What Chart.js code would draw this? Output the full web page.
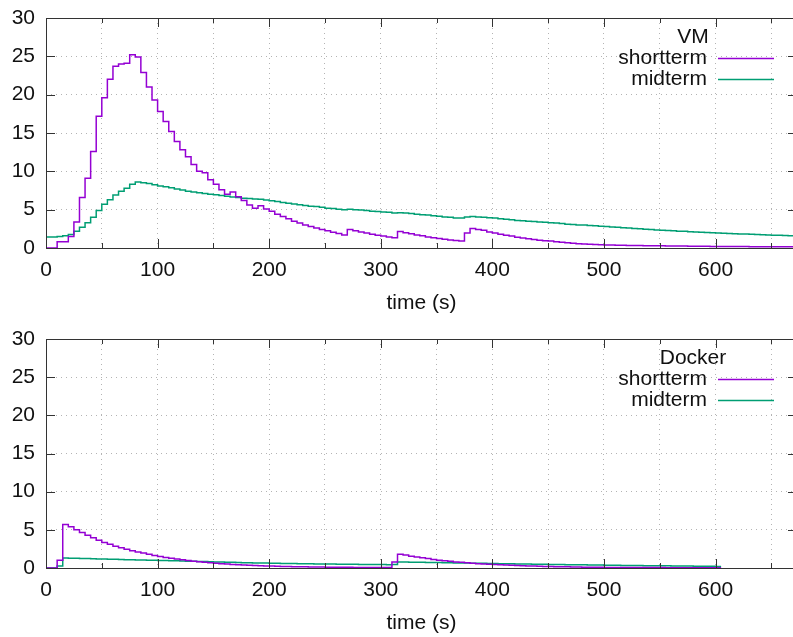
<!DOCTYPE html>
<html>
<head>
<meta charset="utf-8">
<title>Load average: VM vs Docker</title>
<script src="https://cdn.jsdelivr.net/npm/chart.js@4.4.1/dist/chart.umd.min.js"></script>
<style>
  html, body { margin: 0; padding: 0; background: #fff; overflow: hidden; }
  .panel { position: absolute; left: 0; width: 800px; height: 320px; }
  #vmPanel { top: 0; }
  #dockerPanel { top: 320px; }
</style>
</head>
<body>
<div class="panel" id="vmPanel"><canvas id="vmChart" width="800" height="320"></canvas></div>
<div class="panel" id="dockerPanel"><canvas id="dockerChart" width="800" height="320"></canvas></div>
<script>
// load averages, one sample every 5 s
const SAMPLE_STEP = 5;
const X_MAX = 673;
const X_LABELS = [0, 100, 200, 300, 400, 500, 600];
const Y_TICKS = [0, 5, 10, 15, 20, 25, 30];
const seriesNames = ['shortterm', 'midterm'];
const seriesColors = ['#9400d3', '#009e73'];

const vmShort = [
  0, 0, 0.8, 0.8, 1.5, 3.4, 6.6, 9.1, 12.6, 17.2,
  19.6, 22.0, 23.7, 24.0, 24.1, 25.2, 24.9, 22.9, 21.0, 19.3,
  17.8, 16.5, 15.2, 13.9, 12.8, 11.9, 10.9, 10.0, 9.8, 8.9,
  8.3, 7.6, 7.0, 7.3, 6.7, 6.2, 5.6, 5.2, 5.5, 5.1,
  4.8, 4.4, 4.1, 3.8, 3.5, 3.25, 3.0, 2.8, 2.6, 2.4,
  2.25, 2.05, 1.9, 1.7, 2.4, 2.25, 2.1, 1.95, 1.8, 1.65,
  1.55, 1.45, 1.35, 2.15, 2.0, 1.85, 1.7, 1.6, 1.45, 1.35,
  1.25, 1.15, 1.05, 0.97, 0.9, 1.95, 2.55, 2.4, 2.3, 2.1,
  1.95, 1.8, 1.65, 1.55, 1.4, 1.3, 1.2, 1.1, 1.0, 0.95,
  0.9, 0.8, 0.75, 0.7, 0.62, 0.57, 0.52, 0.48, 0.45, 0.42,
  0.4, 0.38, 0.36, 0.35, 0.33, 0.32, 0.31, 0.3, 0.3, 0.29,
  0.28, 0.27, 0.26, 0.25, 0.25, 0.24, 0.23, 0.22, 0.22, 0.21,
  0.2, 0.2, 0.19, 0.19, 0.18, 0.18, 0.17, 0.17, 0.16, 0.16,
  0.16, 0.15, 0.15, 0.15, 0.15
];
const vmMid = [
  1.45, 1.45, 1.5, 1.6, 1.75, 2.2, 2.7, 3.3, 4.0, 4.9,
  5.7, 6.3, 6.9, 7.4, 7.8, 8.3, 8.6, 8.5, 8.4, 8.25,
  8.1, 8.0, 7.85, 7.7, 7.55, 7.4, 7.3, 7.2, 7.1, 7.0,
  6.95, 6.85, 6.75, 6.65, 6.6, 6.5, 6.45, 6.4, 6.35, 6.25,
  6.15, 6.05, 5.95, 5.85, 5.75, 5.65, 5.55, 5.45, 5.4, 5.3,
  5.2, 5.15, 5.05, 5.0, 5.05, 5.0, 4.95, 4.9, 4.8, 4.75,
  4.7, 4.65, 4.55, 4.6, 4.55, 4.5, 4.4, 4.35, 4.3, 4.2,
  4.15, 4.05, 4.0, 3.9, 3.9, 4.05, 4.12, 4.05, 4.0, 3.95,
  3.9, 3.8, 3.75, 3.7, 3.6, 3.55, 3.5, 3.45, 3.4, 3.35,
  3.3, 3.25, 3.2, 3.1, 3.05, 3.0, 3.0, 2.95, 2.9, 2.85,
  2.8, 2.75, 2.7, 2.65, 2.6, 2.55, 2.5, 2.45, 2.4, 2.35,
  2.3, 2.27, 2.24, 2.2, 2.17, 2.13, 2.1, 2.07, 2.03, 2.0,
  1.96, 1.93, 1.9, 1.87, 1.84, 1.81, 1.78, 1.75, 1.72, 1.7,
  1.67, 1.65, 1.62, 1.6, 1.58
];

const dockerShort = [
  0, 0, 1.0, 5.7, 5.4, 5.0, 4.65, 4.3, 3.95, 3.65,
  3.35, 3.1, 2.85, 2.65, 2.45, 2.25, 2.1, 1.95, 1.8, 1.65,
  1.5, 1.38, 1.27, 1.17, 1.07, 0.98, 0.9, 0.82, 0.75, 0.68,
  0.62, 0.56, 0.51, 0.47, 0.43, 0.39, 0.35, 0.32, 0.3, 0.27,
  0.25, 0.23, 0.21, 0.19, 0.17, 0.16, 0.15, 0.14, 0.13, 0.12,
  0.11, 0.1, 0.1, 0.09, 0.09, 0.08, 0.08, 0.08, 0.07, 0.07,
  0.07, 0.07, 0.78, 1.8, 1.7, 1.55, 1.45, 1.35, 1.25, 1.12,
  1.02, 0.95, 0.88, 0.8, 0.74, 0.68, 0.63, 0.57, 0.53, 0.49,
  0.45, 0.41, 0.38, 0.35, 0.32, 0.29, 0.27, 0.25, 0.23, 0.21,
  0.19, 0.17, 0.16, 0.15, 0.13, 0.12, 0.11, 0.1, 0.1, 0.09,
  0.08, 0.08, 0.07, 0.07, 0.06, 0.06, 0.06, 0.05, 0.05, 0.05,
  0.05, 0.04, 0.04, 0.04, 0.04, 0.04, 0.03, 0.03, 0.03, 0.03, 0.03, 0.03
];
const dockerMid = [
  0, 0, 0.25, 1.3, 1.29, 1.27, 1.25, 1.23, 1.21, 1.19,
  1.17, 1.15, 1.13, 1.11, 1.09, 1.07, 1.05, 1.04, 1.02, 1.0,
  0.99, 0.97, 0.96, 0.94, 0.92, 0.9, 0.88, 0.86, 0.84, 0.82,
  0.8, 0.78, 0.76, 0.74, 0.72, 0.7, 0.69, 0.67, 0.66, 0.64,
  0.63, 0.61, 0.6, 0.59, 0.58, 0.57, 0.56, 0.55, 0.54, 0.53,
  0.52, 0.51, 0.5, 0.49, 0.48, 0.48, 0.47, 0.46, 0.46, 0.45,
  0.45, 0.44, 0.45, 0.78, 0.77, 0.76, 0.75, 0.74, 0.73, 0.72,
  0.71, 0.7, 0.68, 0.67, 0.66, 0.65, 0.63, 0.62, 0.61, 0.6,
  0.58, 0.57, 0.56, 0.55, 0.54, 0.52, 0.51, 0.5, 0.49, 0.48,
  0.47, 0.46, 0.45, 0.44, 0.43, 0.42, 0.41, 0.4, 0.39, 0.38,
  0.37, 0.36, 0.35, 0.34, 0.33, 0.33, 0.32, 0.31, 0.3, 0.29,
  0.28, 0.28, 0.27, 0.26, 0.25, 0.25, 0.24, 0.23, 0.23, 0.22, 0.21, 0.21
];

const FONT_FAMILY = '"Liberation Sans", Arial, sans-serif';
const TEXT_COLOR = '#111';
Chart.defaults.font.family = FONT_FAMILY;
Chart.defaults.font.size = 21;
Chart.defaults.color = TEXT_COLOR;

// box border plus inward tick marks on all four sides
const gnuFrame = {
  id: 'gnuFrame',
  afterDatasetsDraw(chart) {
    const { ctx, chartArea: a, scales: { x, y } } = chart;
    ctx.save();
    ctx.strokeStyle = '#333';
    ctx.lineWidth = 1;
    ctx.beginPath();
    x.ticks.forEach(t => {
      const px = Math.round(x.getPixelForValue(t.value)) + 0.5;
      const len = t.value % 100 === 0 ? 9 : 5;
      ctx.moveTo(px, a.bottom); ctx.lineTo(px, a.bottom - len);
      ctx.moveTo(px, a.top); ctx.lineTo(px, a.top + len);
    });
    y.ticks.forEach(t => {
      const py = Math.round(y.getPixelForValue(t.value)) + 0.5;
      ctx.moveTo(a.left, py); ctx.lineTo(a.left + 9, py);
      ctx.moveTo(a.right, py); ctx.lineTo(a.right - 9, py);
    });
    ctx.stroke();
    ctx.strokeRect(Math.round(a.left) + 0.5, Math.round(a.top) + 0.5,
      Math.round(a.right - a.left), Math.round(a.bottom - a.top));
    ctx.restore();
  }
};

// key in the top right corner: title, then label with line sample to its right
const gnuKey = {
  id: 'gnuKey',
  afterDraw(chart, args, opts) {
    const { ctx, chartArea: a } = chart;
    ctx.save();
    ctx.font = '21px ' + FONT_FAMILY;
    ctx.fillStyle = TEXT_COLOR;
    ctx.textBaseline = 'middle';
    ctx.textAlign = 'center';
    ctx.fillText(opts.title, a.right - 104, a.top + 19.5);
    ctx.textAlign = 'right';
    chart.data.datasets.forEach((ds, i) => {
      const cy = a.top + 40.5 + i * 21;
      ctx.fillText(ds.label, a.right - 90, cy);
      ctx.strokeStyle = ds.borderColor;
      ctx.lineWidth = 1.5;
      ctx.beginPath();
      ctx.moveTo(a.right - 79, cy);
      ctx.lineTo(a.right - 23, cy);
      ctx.stroke();
    });
    ctx.restore();
  }
};

function makeChart(canvasId, title, shortVals, midVals, topPad) {
  const times = shortVals.map((_, i) => i * SAMPLE_STEP);
  const toPoints = vals => vals.map((v, i) => ({ x: times[i], y: v }));
  const datasets = [shortVals, midVals].map((vals, i) => ({
    label: seriesNames[i],
    data: toPoints(vals),
    borderColor: seriesColors[i],
    borderWidth: 1.5,
    pointRadius: 0,
    stepped: true,
    fill: false
  }));

  return new Chart(document.getElementById(canvasId), {
    type: 'line',
    data: { datasets },
    plugins: [gnuFrame, gnuKey],
    options: {
      responsive: false,
      animation: false,
      devicePixelRatio: 1,
      layout: { padding: { top: topPad, right: 3, left: 0, bottom: 0 } },
      plugins: {
        legend: { display: false },
        tooltip: { enabled: false },
        gnuKey: { title }
      },
      scales: {
        x: {
          type: 'linear',
          min: 0,
          max: X_MAX,
          afterFit: s => { s.height = 72; s.paddingLeft = 0; s.paddingRight = 0; },
          border: { display: false, dash: [1, 4] },
          grid: { color: '#b4b4b4', drawTicks: false },
          title: { display: true, text: 'time (s)', padding: { top: 0, bottom: 4 } },
          ticks: {
            stepSize: 50,
            includeBounds: false,
            autoSkip: false,
            maxRotation: 0,
            padding: 10,
            callback: v => X_LABELS.includes(v) ? String(v) : ''
          }
        },
        y: {
          min: Y_TICKS[0],
          max: Y_TICKS[Y_TICKS.length - 1],
          afterFit: s => { s.width = 46; s.paddingTop = 0; s.paddingBottom = 0; },
          border: { display: false, dash: [1, 4] },
          grid: { color: '#b4b4b4', drawTicks: false },
          ticks: { stepSize: Y_TICKS[1] - Y_TICKS[0], padding: 11 }
        }
      }
    }
  });
}

makeChart('vmChart', 'VM', vmShort, vmMid, 18);
makeChart('dockerChart', 'Docker', dockerShort, dockerMid, 19);
</script>
</body>
</html>
